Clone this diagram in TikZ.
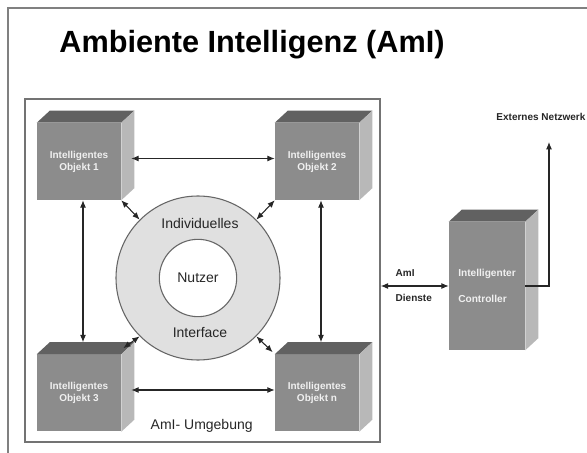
\documentclass[tikz,border=0pt]{standalone}
\usepackage{fontspec}
\setmainfont{Liberation Sans}
\usetikzlibrary{calc,arrows.meta}

% top and side faces of a box drawn round its front node
\newcommand{\cubefaces}[1]{%
\fill[cubetop] (#1.north west) -- ++(13,-12) -- ([shift={(13,-12)}]#1.north east) -- (#1.north east) -- cycle;
\fill[cubeside] (#1.north east) -- ++(13,-12) -- ([shift={(13,-12)}]#1.south east) -- (#1.south east) -- cycle;
}

\begin{document}
\begin{tikzpicture}[x=0.75pt,y=0.75pt,yscale=-1,xscale=1,
  frameline/.style={draw=black!55, line width=1.1pt},
  cube/.style={fill=black!45, minimum width=63pt, minimum height=57.75pt, inner sep=0pt, align=center,
    font=\fontsize{7.5}{9}\selectfont\bfseries, text=black!6},
  cubetop/.style={fill=black!62},
  cubeside/.style={fill=black!28},
  link/.style={draw=black!85, line width=0.8pt, {Latex[length=5.5pt,width=4.5pt]}-{Latex[length=5.5pt,width=4.5pt]}},
  uplink/.style={draw=black!85, line width=0.8pt, -{Latex[length=5.5pt,width=4.5pt]}},
  tag/.style={font=\fontsize{7.5}{9}\selectfont\bfseries, text=black!85},
  ringtext/.style={font=\fontsize{10.5}{12}\selectfont, text=black!85}]
\useasboundingbox (0,0) rectangle (587,453);

%page border
\draw [draw=black!50, line width=1.5pt] (8,453) -- (8,8) -- (587,8);

% Title
\node (title) at (252,45) {\fontsize{23}{26}\selectfont\bfseries Ambiente Intelligenz (AmI)};

%AmI environment frame
\node [frameline, minimum width=266.25pt, minimum height=257.25pt, inner sep=0pt] (env) at (202.5,270.5) {};
\node [ringtext, anchor=west] (envtext) at (146,426) {AmI- Umgebung};

%Intelligent objects
\node [cube] (o1) at (79,161.5) {Intelligentes\\Objekt 1};
\cubefaces{o1}
\node [cube] (o2) at (317,161.5) {Intelligentes\\Objekt 2};
\cubefaces{o2}
\node [cube] (o3) at (79,393) {Intelligentes\\Objekt 3};
\cubefaces{o3}
\node [cube] (o4) at (317,393) {Intelligentes\\Objekt n};
\cubefaces{o4}

%User ring
\node [circle, draw=black!60, line width=0.8pt, fill=black!12, minimum size=123pt] (ring) at (198,278) {};
\node [circle, draw=black!60, line width=0.8pt, fill=white, minimum size=58pt, ringtext] (user) at (198,278) {Nutzer};
\node [ringtext] (indiv) at (200,223) {Individuelles};
\node [ringtext] (iface) at (200,333) {Interface};

%Links between objects
\draw [link] ($(o1.east)+(10,-3)$) -- ($(o2.west)+(0,-3)$);
\draw [link] ($(o3.east)+(10,-3)$) -- ($(o4.west)+(0,-3)$);
\draw [link] ($(o1.south)+(4,0)$) -- ($(o3.north)+(4,-12)$);
\draw [link] ($(o2.south)+(4,0)$) -- ($(o4.north)+(4,-12)$);
\draw [link] (o1.south east) -- (ring.135);
\draw [link] (o2.south west) -- (ring.45);
\draw [link] ($(o3.north east)+(2,-6)$) -- (ring.225);
\draw [link] ($(o4.north west)+(-2,-2)$) -- (ring.315);

%Controller
\node [cube, minimum width=57pt, minimum height=96pt, font=\fontsize{7.6}{19}\selectfont\bfseries, align=left] (ctrl) at (487,286) {Intelligenter\\Controller};
\cubefaces{ctrl}
\draw [link] (ctrl.west -| env.east) -- (ctrl.west);
\node [tag, anchor=west] (ami) at (391,273) {AmI};
\node [tag, anchor=west] (dienste) at (391,298) {Dienste};

% External network
\node [tag, anchor=east, inner xsep=1pt] (net) at (587,117) {Externes Netzwerk};
\coordinate (netin) at (549,142);
\draw [uplink] (ctrl.east) -| (netin);

\end{tikzpicture}
\end{document}
